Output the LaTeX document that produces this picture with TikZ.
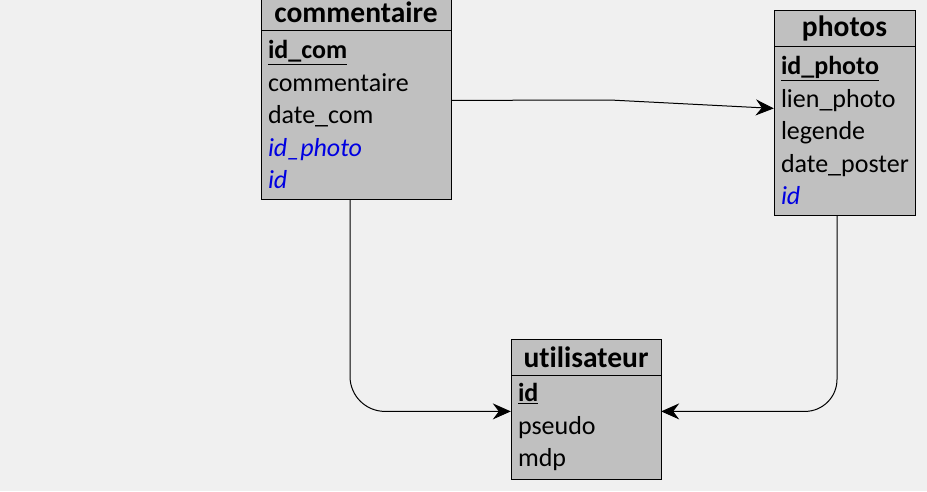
\documentclass[tikz,border=0pt]{standalone}
\usepackage{fontspec}
\setmainfont{Carlito}[Ligatures=NoCommon]
\usetikzlibrary{positioning, arrows.meta}

\definecolor{bgback}{HTML}{F0F0F0}
\definecolor{tabgray}{HTML}{C0C0C0}
\definecolor{fkblue}{RGB}{0,0,225}

\newcommand{\pk}[1]{\textbf{\underline{#1}}}
\newcommand{\fk}[1]{\textcolor{fkblue}{\itshape #1}}

\tikzset{
  tabhead/.style={draw, fill=tabgray, inner sep=0pt, minimum height=36pt,
    font=\fontsize{29.5}{32}\selectfont\bfseries},
  tabbody/.style={draw, fill=tabgray, inner xsep=7pt, inner ysep=0pt,
    align=left, font=\fontsize{26}{32.5}\selectfont},
  link/.style={draw, line width=1pt, -{Stealth[length=18pt, width=16pt, inset=6pt]}}
}

\begin{document}
\begin{tikzpicture}[x=1pt, y=-1pt]
    \fill[bgback] (0,0) rectangle (927,491);
    \useasboundingbox (0,0) rectangle (927,491);

    % tables
    \node[tabhead, minimum width=190pt] (comH) at (356,12) {commentaire};
    \node[tabbody, text width=176pt, minimum height=169pt, below=0pt of comH] (com)
        {\pk{id\_com}\\commentaire\\date\_com\\\fk{id\_photo}\\\fk{id}};

    \node[tabhead, minimum width=141pt] (phoH) at (844.5,28) {photos};
    \node[tabbody, text width=127pt, minimum height=169pt, below=0pt of phoH] (pho)
        {\pk{id\_photo}\\lien\_photo\\legende\\date\_poster\\\fk{id}};

    \node[tabhead, minimum width=150pt] (utiH) at (586,357) {utilisateur};
    \node[tabbody, text width=136pt, minimum height=104pt, below=0pt of utiH] (uti)
        {\pk{id}\\pseudo\\mdp};

    % links
    \coordinate (bend) at (610,100);
    \draw[link] ([yshift=14.5pt]com.east) -- (bend) -- ([yshift=22.5pt]pho.west);
    \draw[link, rounded corners=35pt] ([xshift=-6pt]com.south) |- ([yshift=16pt]uti.west);
    \draw[link, rounded corners=32pt] ([xshift=-7.5pt]pho.south) |- ([yshift=16pt]uti.east);
\end{tikzpicture}
\end{document}
